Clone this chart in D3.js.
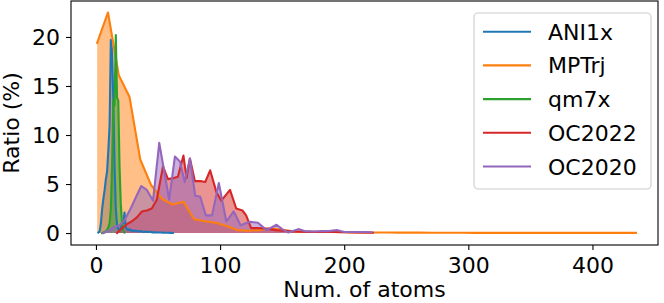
<!DOCTYPE html>
<html lang="en">
<head>
	<meta charset="UTF-8">
	<title>Document</title>
	<script src="https://cdn.jsdelivr.net/npm/d3@7"></script>
	<style>
		body{margin:0;background:#fff;}
		text{font-family:"DejaVu Sans",sans-serif;}
	</style>
</head>
<body>
</body>
<script type="text/javascript">
//atom count distribution of the datasets
var names = ["ANI1x","MPTrj","qm7x","OC2022","OC2020"];
var colors = ["#1f77b4","#ff7f0e","#2ca02c","#d62728","#9467bd"];

var ani1xX = [2,3,4,5,6,7,8,9,10,11,12,13,14,15,16,17,18,19,20,21,22,23,24,25,26,27,28,29,30,32,34,36,38,40,42,44,46,48,50,52,54,56,58,60,62];
var ani1xY = [0.05,0.2,1.0,2.5,3.5,4.4,5.5,6.3,8.5,11,19.7,18.5,13.5,6.8,2.5,0.8,0.4,0.3,0.5,0.9,1.0,2.1,0.6,0.4,0.3,0.4,0.25,0.3,0.2,0.25,0.15,0.2,0.1,0.15,0.1,0.12,0.06,0.08,0.05,0.06,0.04,0.03,0.03,0.02,0.01];

var mptrjX = [1,9.7,18.4,27,35.7,44.4,53.1,61.8,70.4,79.1,87.8,96.5,105.2,113.8,122.5,131.2,139.9,148.6,157.2,165.9,174.6,183.3,192,200.6,209.3,218,226.7,235.4,244,252.7,261.4,270.1,278.8,287.4,296.1,304.8,313.5,322.2,330.8,339.5,348.2,356.9,365.6,374.2,382.9,391.6,400.3,409,417.6,426.3,435];
var mptrjY = [19.4,22.5,16.1,13.9,7.5,4.9,3.5,2.9,3.2,1.4,1.2,1.05,0.72,0.3,0.23,0.3,0.48,0.35,0.2,0.15,0.12,0.1,0.1,0.08,0.07,0.06,0.05,0.05,0.04,0.04,0.04,0.03,0.03,0.03,0.03,0.02,0.02,0.02,0.02,0.02,0.02,0.02,0.02,0.02,0.02,0.02,0.02,0.02,0.02,0.02,0.02];

var qm7xX = [5,6,7,8,9,10,11,12,13,14,15,16,17,18,19,20,21,22,23];
var qm7xY = [0,0.05,0.1,0.2,0.3,0.6,1.0,2.5,6.8,13.6,13.0,20.2,13.8,13.5,6.8,3.0,1.0,0.3,0.05];

var oc2022X = [17,21,25,29,33,37,41,45,49,54,58,62,66,70.5,73,75.7,79.7,84,88,92,97,101,108,113,118,121,125,130,135,140,145,150,155,160,170,180,190,200,210,223];
var oc2022Y = [0,0.5,0.9,1.2,1.6,2.2,2.3,2.5,3.4,6.8,5.5,5.6,5.75,7.9,5.6,7.6,5.3,5.3,5.2,6.4,4.2,3.3,4.4,2.5,2.3,1.8,0.5,0.5,0.48,0.4,0.3,0.25,0.2,0.15,0.12,0.1,0.1,0.08,0.05,0.03];

var oc2020X = [6,10,15,19,23,28,32,36.5,41,46,51,59,63.6,67.7,71.5,75.7,80,84,88.5,93.5,99,105,111,116.5,124,130.5,137.5,145.5,150,155,163,168,175,182,188,194,200,207,214,222];
var oc2020Y = [0,0.2,0.65,0.8,1.3,2.5,3.6,4.8,4.4,3.3,9.2,3.4,7.8,7.3,5.2,7.6,3.8,3.7,1.8,1.8,5.1,1.2,2.2,0.8,1.15,1.05,0.3,0.85,0.4,0.05,0.4,0.2,0.15,0.2,0.2,0.3,0.1,0.1,0.1,0.08];

var xTicks = [0,100,200,300,400];
var yTicks = [0,5,10,15,20];

var seriesX = [ani1xX,mptrjX,qm7xX,oc2022X,oc2020X];
var seriesY = [ani1xY,mptrjY,qm7xY,oc2022Y,oc2020Y];

var width = 664;
var height = 303;
var plot = {left:71,right:658,top:1,bottom:245};

var svg = d3.select("body").append("svg").attr("width",width).attr("height",height);

var xScale = d3.scaleLinear().domain([-20.1,452.8]).range([plot.left,plot.right]);
var yScale = d3.scaleLinear().domain([-1.22,23.67]).range([plot.bottom,plot.top]);

//build point lists from the arrays
var series = names.map(function(n,i){
	return seriesX[i].map(function(x,j){return [x,seriesY[i][j]];});
});

var area = d3.area().x(function(d){return xScale(d[0]);}).y0(yScale(0)).y1(function(d){return yScale(d[1]);});
var line = d3.line().x(function(d){return xScale(d[0]);}).y(function(d){return yScale(d[1]);});

//fills first, lines on top (like matplotlib zorder)
svg.append("g").selectAll("path").data(series).enter().append("path")
	.attr("d",area).attr("fill",function(d,i){return colors[i];}).attr("fill-opacity",0.5);
svg.append("g").selectAll("path").data(series).enter().append("path")
	.attr("d",line).attr("fill","none").attr("stroke",function(d,i){return colors[i];})
	.attr("stroke-width",2.1).attr("stroke-linejoin","round").attr("stroke-linecap","square");

//frame
svg.append("rect").attr("x",plot.left).attr("y",plot.top).attr("width",plot.right-plot.left).attr("height",plot.bottom-plot.top)
	.attr("fill","none").attr("stroke","#000").attr("stroke-width",1.1);

//axes
var xAxis = d3.axisBottom(xScale).tickValues(xTicks).tickSize(5).tickPadding(7).tickSizeOuter(0);
var yAxis = d3.axisLeft(yScale).tickValues(yTicks).tickSize(5).tickPadding(6).tickSizeOuter(0);
var gx = svg.append("g").attr("transform","translate(0,"+plot.bottom+")").call(xAxis);
var gy = svg.append("g").attr("transform","translate("+plot.left+",0)").call(yAxis);
[gx,gy].forEach(function(g){
	g.select(".domain").remove();
	g.selectAll("line").attr("stroke","#000").attr("stroke-width",1.1);
	g.selectAll("text").attr("fill","#000").style("font-size","22px").style("font-family","DejaVu Sans");
});

//axis titles
svg.append("text").attr("x",(plot.left+plot.right)/2).attr("y",297).attr("text-anchor","middle")
	.style("font-size","22px").text("Num. of atoms");
svg.append("text").attr("transform","translate(18.5,"+((plot.top+plot.bottom)/2)+") rotate(-90)")
	.attr("text-anchor","middle").style("font-size","22px").text("Ratio (%)");

//legend
var legend = svg.append("g");
legend.append("rect").attr("x",474).attr("y",13).attr("width",177).attr("height",176).attr("rx",4)
	.attr("fill","#fff").attr("fill-opacity",0.8).attr("stroke","#cccccc").attr("stroke-width",1.1);
var item = legend.selectAll("g.item").data(names).enter().append("g").attr("class","item")
	.attr("transform",function(d,i){return "translate(0,"+(31.7+33.7*i)+")";});
item.append("line").attr("x1",483).attr("x2",531).attr("y1",0).attr("y2",0)
	.attr("stroke",function(d,i){return colors[i];}).attr("stroke-width",2.1);
item.append("text").attr("x",548).attr("y",8).style("font-size","22px").text(function(d){return d;});
</script>
</html>
